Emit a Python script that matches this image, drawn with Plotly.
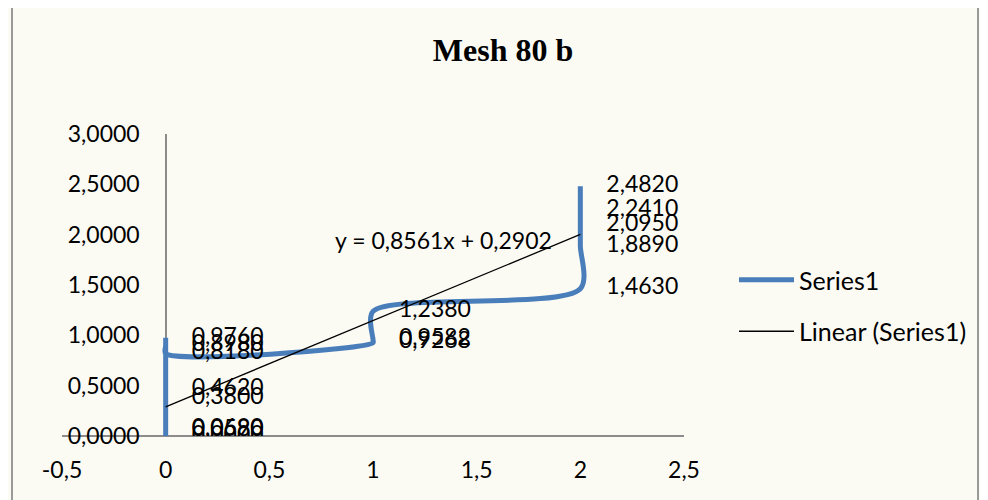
import plotly.graph_objects as go

# data (x = group, y = value), in plotting order
x_vals = [0, 0, 0, 0, 0, 0, 0, 0, 1, 1, 1, 2, 2, 2, 2, 2]
y_vals = [0.0000, 0.0580, 0.0690, 0.3800, 0.4620, 0.9760, 0.8980, 0.8180,
          0.9268, 0.9582, 1.2380, 1.4630, 1.8890, 2.0950, 2.2410, 2.4820]

# trendline coefficients, as printed on the chart
slope = 0.8561
intercept = 0.2902
trend_x = [0, 2]

x_ticks = [-0.5, 0, 0.5, 1, 1.5, 2, 2.5]
y_ticks = [0, 0.5, 1, 1.5, 2, 2.5, 3]


def fmt(v, dec):
    return f"{v:.{dec}f}".replace(".", ",")


font_name = "Lato"
blue = "#4A7EBB"
grey = "#8C8C8C"

# the page puts the figure 8px in from the top-left corner
W, H = 980, 492
ml, mt = 54, 126
pw, ph = 622, 302

fig = go.Figure()

fig.add_trace(go.Scatter(
    x=x_vals, y=y_vals,
    mode="lines",
    line=dict(color=blue, width=5, shape="spline", smoothing=0.85),
    name="Series1",
))

fig.add_trace(go.Scatter(
    x=trend_x, y=[slope * v + intercept for v in trend_x],
    mode="lines",
    line=dict(color="black", width=1.3),
    name="Linear (Series1)",
    legendgroup="trend",
))

# data labels
fig.add_trace(go.Scatter(
    x=x_vals, y=y_vals,
    mode="markers+text",
    marker=dict(size=40, color="rgba(0,0,0,0)"),
    text=[fmt(v, 4) for v in y_vals],
    textposition="middle right",
    textfont=dict(family=font_name, size=23, color="black"),
    showlegend=False,
    hoverinfo="skip",
))

fig.add_annotation(
    x=1.34, y=1.95, xref="x", yref="y",
    text="y = " + fmt(slope, 4) + "x + " + fmt(intercept, 4),
    showarrow=False,
    font=dict(family=font_name, size=23, color="black"),
)

# chart-area border lines left / right (screen x)
for px in [12, 978]:
    fig.add_shape(
        type="line", xref="paper", yref="paper",
        x0=(px - 62) / pw, x1=(px - 62) / pw,
        y0=-0.22, y1=1.45,
        line=dict(color="#9A9A9A", width=2),
    )

fig.update_layout(
    width=W,
    height=H,
    margin=dict(l=ml, r=W - ml - pw, t=mt, b=H - mt - ph, autoexpand=False),
    paper_bgcolor="#FBFBF4",
    plot_bgcolor="rgba(0,0,0,0)",
    font=dict(family=font_name, size=23, color="black"),
    title=dict(
        text="<b>Mesh 80 b</b>",
        x=495 / W, xanchor="center",
        y=1 - 42 / H, yanchor="middle",
        font=dict(family="Liberation Serif", size=32, color="black"),
    ),
    showlegend=True,
    legend=dict(
        x=(734 - 62) / pw, xanchor="left",
        y=(436 - 257) / ph, yanchor="top",
        bgcolor="rgba(0,0,0,0)",
        font=dict(family=font_name, size=25),
        tracegroupgap=16,
        itemwidth=55,
    ),
)

fig.update_xaxes(
    range=[-0.5, 2.5],
    tickvals=x_ticks,
    ticktext=[fmt(v, 1) if v != int(v) else str(int(v)) for v in x_ticks],
    showgrid=False,
    showline=False,
    zeroline=True, zerolinecolor=grey, zerolinewidth=1.5,
    ticks="",
    ticklabelstandoff=18,
    automargin=False,
)

fig.update_yaxes(
    range=[0, 3],
    tickvals=y_ticks,
    ticktext=[fmt(v, 4) for v in y_ticks],
    showgrid=False,
    showline=False,
    zeroline=True, zerolinecolor=grey, zerolinewidth=1.5,
    ticks="",
    anchor="free",
    position=1 / 6,
    ticklabelstandoff=26,
    automargin=False,
)

fig.write_html("out.html")
